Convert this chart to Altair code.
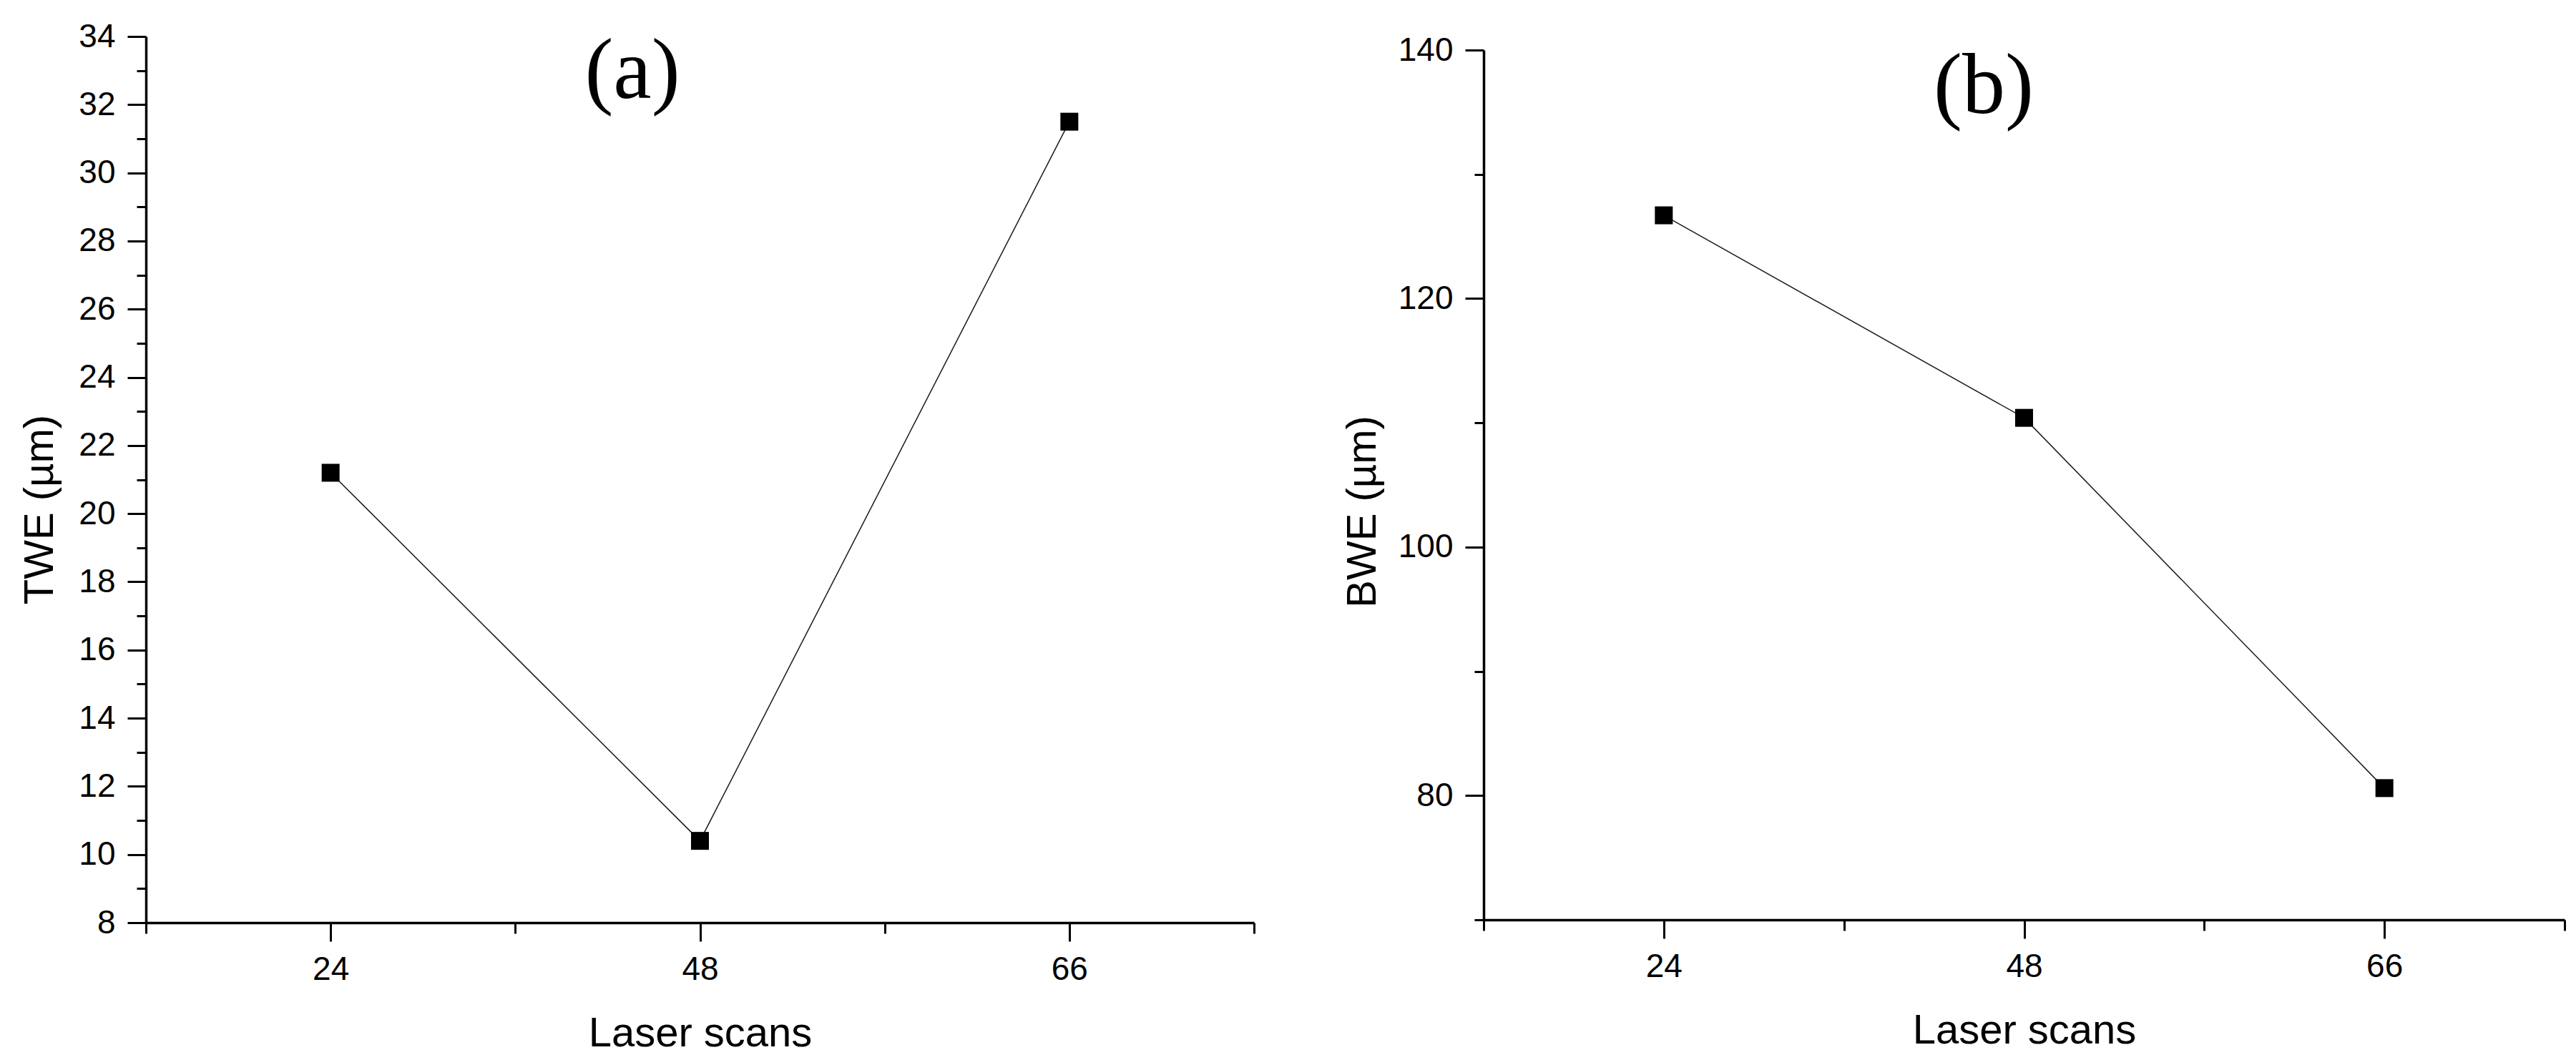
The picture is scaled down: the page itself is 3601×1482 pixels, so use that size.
import json
import altair as alt
import pandas as pd

# ---- data ----
scans = ["24", "48", "66"]
twe = [21.2, 10.4, 31.5]
bwe = [126.7, 110.4, 80.6]
panel_labels = ["(a)", "(b)"]

twe_ticks = list(range(8, 35, 1))
bwe_ticks = list(range(70, 141, 10))
x_ticks = [-0.5, 0, 0.5, 1, 1.5, 2, 2.5]

df_a = pd.DataFrame({"idx": list(range(len(scans))), "scan": scans, "val": twe})
df_b = pd.DataFrame({"idx": list(range(len(scans))), "scan": scans, "val": bwe})

FONT = "Liberation Sans"
SERIF = "Liberation Serif"

x_label_expr = f"datum.value % 1 === 0 ? {json.dumps(scans)}[datum.value] : ''"


def panel(df, ytitle, ydomain, yvals, major, label, lx, ly, width, height, title_pad, title_y):
    x = alt.X(
        "idx:Q",
        scale=alt.Scale(domain=[-0.5, 2.5], nice=False, zero=False),
        axis=alt.Axis(
            values=x_ticks,
            labelExpr=x_label_expr,
            tickSize=alt.ExprRef("datum.value % 1 === 0 ? 26 : 15"),
            labelPadding=17,
            labelOverlap=False,
            labelFlush=False,
            title="Laser scans",
            titlePadding=38,
            grid=False,
        ),
    )
    y = alt.Y(
        "val:Q",
        scale=alt.Scale(domain=ydomain, nice=False, zero=False),
        axis=alt.Axis(
            values=yvals,
            labelExpr=f"datum.value % {major} === 0 ? datum.label : ''",
            tickSize=alt.ExprRef(f"datum.value % {major} === 0 ? 26 : 13"),
            labelPadding=17,
            labelOverlap=False,
            title=ytitle,
            titlePadding=title_pad,
            titleY=title_y,
            grid=False,
        ),
    )
    line = alt.Chart(df).mark_line(color="#1a1a1a", strokeWidth=1.5).encode(x=x, y=y)
    pts = alt.Chart(df).mark_point(
        shape="square", filled=True, size=625, color="black", opacity=1
    ).encode(x=x, y=y)
    tag = alt.Chart(pd.DataFrame({"label": [label]})).mark_text(
        font=SERIF, fontSize=120, color="black", align="center", baseline="alphabetic"
    ).encode(text="label:N", x=alt.value(lx), y=alt.value(ly))
    return alt.layer(line, pts, tag).properties(width=width, height=height)


left = panel(df_a, "TWE (µm)", [8, 34], twe_ticks, 2, panel_labels[0], 680, 86, 1549, 1239, 24, 661)
right = panel(df_b, "BWE (µm)", [70, 140], bwe_ticks, 20, panel_labels[1], 699, 88, 1511, 1216, 20, 645)

# empty spacer that lowers the right panel's frame a little, as in the reference
spacer = (
    alt.Chart(pd.DataFrame({"v": [0]}))
    .mark_point(opacity=0)
    .encode(x=alt.X("v:Q", axis=None), y=alt.Y("v:Q", axis=None))
    .properties(width=1, height=19)
)
right_col = alt.vconcat(spacer, right, spacing=0, bounds="flush")

chart = (
    alt.hconcat(left, right_col, spacing=121)
    .properties(padding={"left": 19, "top": 20, "right": 5, "bottom": 5}, background="white")
    .configure_view(stroke=None)
    .configure_axis(
        domainColor="black",
        domainWidth=3.5,
        tickColor="black",
        tickWidth=3,
        labelColor="black",
        labelFont=FONT,
        labelFontSize=46,
        titleFont=FONT,
        titleFontSize=58,
        titleFontWeight="normal",
        titleColor="black",
    )
)

chart.save("out.html", embed_options={"renderer": "svg", "actions": False})
